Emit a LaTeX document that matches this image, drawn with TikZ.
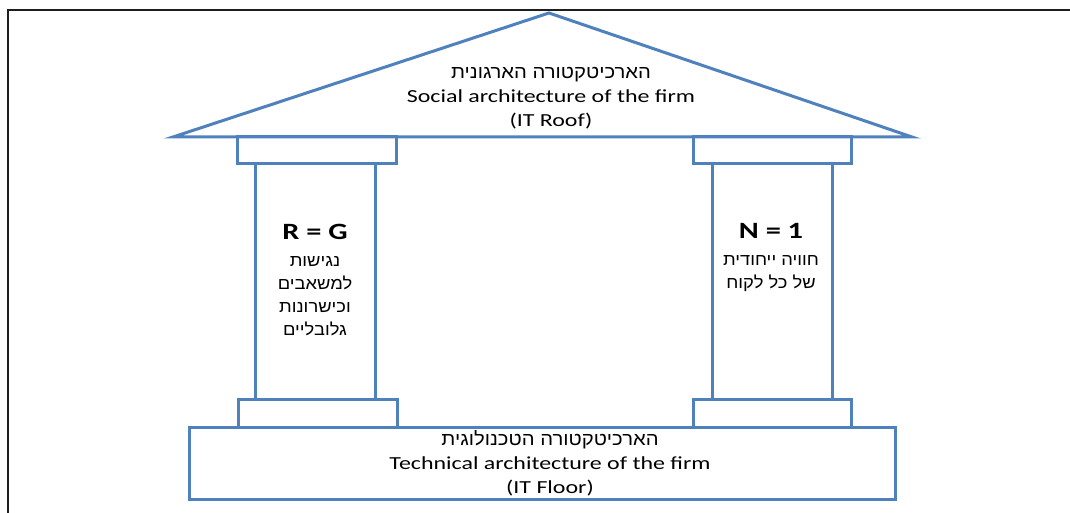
\documentclass[tikz,border=0pt]{standalone}
\usepackage{fontspec}
\usetikzlibrary{positioning}
\setmainfont{Carlito}[FakeStretch=1.3]
\newfontfamily\hebfont[Script=Hebrew,FakeStretch=1.1]{Liberation Sans}
\TeXXeTstate=1
\definecolor{archblue}{RGB}{79,129,189}
\definecolor{framegray}{RGB}{30,30,30}
\newcommand{\heb}[1]{{\hebfont\beginR #1\endR}}
\tikzset{
  temple line/.style={draw=archblue, line width=2.25pt, line join=miter},
  temple text/.style={align=center, inner sep=0pt,
    font=\fontsize{13.8}{18}\selectfont},
  pillar title/.style={inner sep=0pt, font=\fontsize{17.5}{20}\selectfont\bfseries},
  pillar text/.style={align=center, inner sep=0pt,
    font=\fontsize{12.5}{17.4}\selectfont}
}

\begin{document}
\begin{tikzpicture}[x=0.75pt, y=-0.75pt]
  \useasboundingbox (0,0) rectangle (1070,513);
  % page frame, only its top and left edges fall inside
  \draw[framegray, line width=1.5pt] (7.5,513) -- (7.5,10) -- (1070,10);

  % roof
  \draw[temple line] (173,137) -- (549,13) -- (912,137) -- cycle;
  % left column: capital, shaft, base
  \draw[temple line] (237,137) rectangle (396,164);
  \draw[temple line] (255,164) rectangle (375,399);
  \draw[temple line] (238,399) rectangle (397,427);
  % right column
  \draw[temple line] (693,137) rectangle (851,164);
  \draw[temple line] (712,164) rectangle (832,399);
  \draw[temple line] (693,399) rectangle (851,427);
  % floor
  \draw[temple line] (189,427) rectangle (895,499);

  \node[temple text] (roof) at (551,98) {\heb{הארכיטקטורה הארגונית}\\
    Social architecture of the firm\\
    (IT Roof)};
  \node[temple text] (floor) at (550,463) {\heb{הארכיטקטורה הטכנולוגית}\\
    Technical architecture of the firm\\
    (IT Floor)};

  \node[pillar title] (rg) at (315,232) {R = G};
  \node[pillar text, below=12pt of rg] (rgText) {\heb{נגישות}\\
    \heb{למשאבים}\\
    \heb{וכישרונות}\\
    \heb{גלובליים}};
  \node[pillar title] (n1) at (771,231) {N = 1};
  \node[pillar text, below=12pt of n1] (n1Text) {\heb{חוויה ייחודית}\\
    \heb{של כל לקוח}};
\end{tikzpicture}
\end{document}
